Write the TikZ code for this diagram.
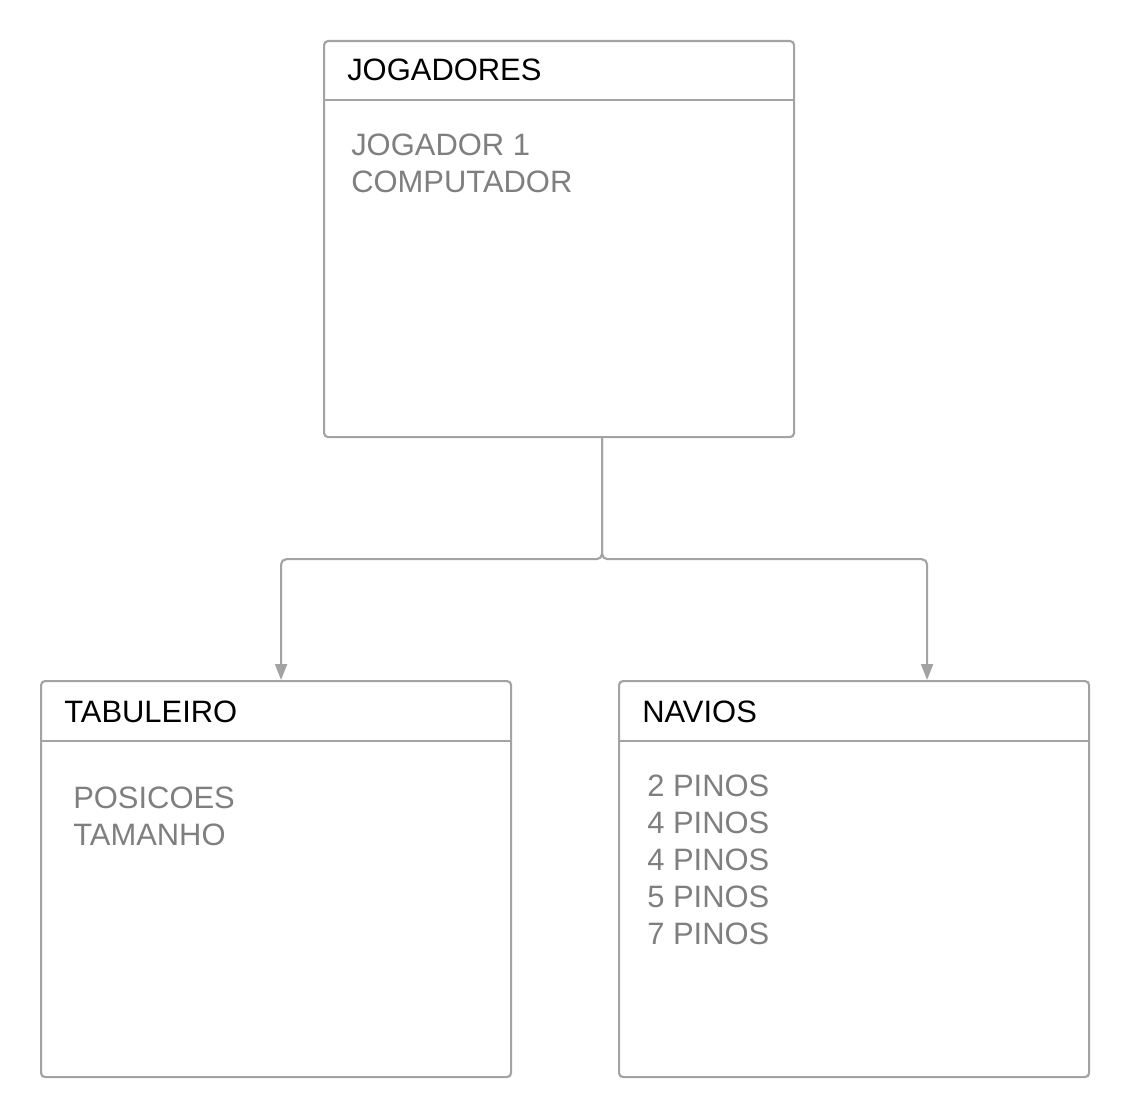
\documentclass[tikz,border=0pt]{standalone}
\usepackage{fontspec}
\setmainfont{Liberation Sans}
\usetikzlibrary{arrows.meta,positioning,calc}
\definecolor{linegray}{HTML}{A3A3A3}
\definecolor{textgray}{HTML}{7F7F7F}
\tikzset{
  classbox/.style={draw=linegray, line width=1.6pt, rounded corners=3pt,
    minimum width=352.5pt, minimum height=297pt, inner sep=0pt, anchor=north west},
  headline/.style={draw=linegray, line width=1.6pt},
  classtitle/.style={inner sep=0pt, anchor=base west, text=black,
    font=\fontsize{23.2}{27.75}\selectfont},
  classbody/.style={inner sep=0pt, anchor=base west, text=textgray, align=left,
    font=\fontsize{23.2}{27.75}\selectfont},
  conn/.style={draw=linegray, line width=1.6pt, rounded corners=4pt,
    -{Triangle[width=9pt,length=12pt]}}
}
\begin{document}
\begin{tikzpicture}[x=0.75pt,y=-0.75pt]
\useasboundingbox (0,0) rectangle (1128,1116);
%BOXES
\node[classbox] (jog) at (323,40) {};
\node[classbox] (tab) at (40,680) {};
\node[classbox] (nav) at (618,680) {};
\draw[headline] ($(jog.north west)+(0,60)$) -- ($(jog.north east)+(0,60)$);
\draw[headline] ($(tab.north west)+(0,61)$) -- ($(tab.north east)+(0,61)$);
\draw[headline] ($(nav.north west)+(0,61)$) -- ($(nav.north east)+(0,61)$);
%TEXT (base = last line)
\node[classtitle] (jogtitle) at ($(jog.north west)+(24,41)$) {JOGADORES};
\node[classtitle] (tabtitle) at ($(tab.north west)+(24,42)$) {TABULEIRO};
\node[classtitle] (navtitle) at ($(nav.north west)+(24,42)$) {NAVIOS};
\node[classbody] (jogbody) at ($(jog.north west)+(28,153)$) {JOGADOR 1\\COMPUTADOR};
\node[classbody] (tabbody) at ($(tab.north west)+(33,165)$) {POSICOES\\TAMANHO};
\node[classbody] (navbody) at ($(nav.north west)+(29,264)$) {2 PINOS\\4 PINOS\\4 PINOS\\5 PINOS\\7 PINOS};
%LINKS
\coordinate (jogout) at ($(jog.south)+(43,0)$);
\coordinate (split) at ($(jogout)+(0,121)$);
\coordinate (tabin) at ($(tab.north)+(5,0)$);
\coordinate (navin) at ($(nav.north)+(73,0)$);
\draw[conn] (jogout) -- (split) -| (tabin);
\draw[conn] (jogout) -- (split) -| (navin);
\end{tikzpicture}
\end{document}
